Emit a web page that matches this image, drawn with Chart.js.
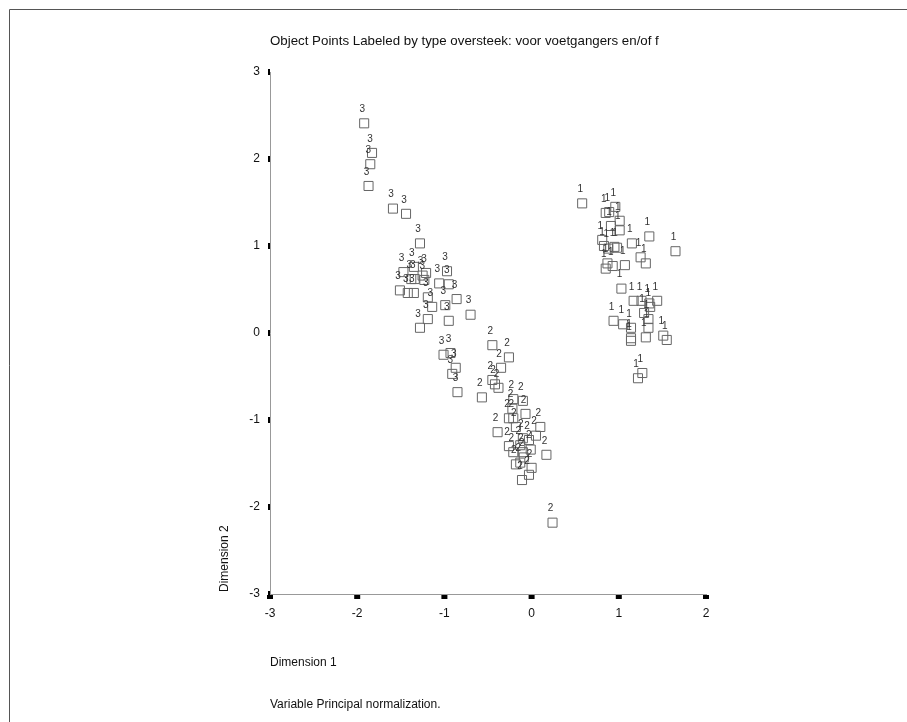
<!DOCTYPE html>
<html>
<head>
<meta charset="utf-8">
<script src="https://cdn.jsdelivr.net/npm/chart.js@4.4.0/dist/chart.umd.min.js"></script>
<style>
body { margin: 0; background: #fff; }
canvas { display: block; }
</style>
</head>
<body>
<canvas id="plot" width="907" height="722"></canvas>
<script>
// object points
const group1X = [0.58, 0.96, 0.85, 0.89, 1.01, 0.91, 1.01, 1.35, 0.81, 1.15, 0.83, 0.88, 0.95, 0.98, 1.65, 1.25, 1.31, 0.87, 0.93, 1.07,
                 0.85, 1.03, 1.17, 1.26, 1.35, 1.44, 1.36, 1.29, 0.94, 1.05, 1.34, 1.14, 1.34, 1.14, 1.14, 1.31, 1.51, 1.55, 1.27, 1.22];
const group1Y = [1.49, 1.45, 1.38, 1.39, 1.29, 1.23, 1.18, 1.11, 1.07, 1.03, 1.00, 0.97, 0.99, 0.98, 0.94, 0.87, 0.80, 0.80, 0.77, 0.78,
                 0.74, 0.51, 0.37, 0.37, 0.34, 0.37, 0.30, 0.23, 0.14, 0.10, 0.16, 0.06, 0.06, -0.06, -0.09, -0.05, -0.03, -0.08, -0.46, -0.52];

const group2X = [-0.45, -0.26, -0.35, -0.45, -0.42, -0.38, -0.57, -0.21, -0.10, -0.22, -0.07, -0.26, -0.21, -0.18, -0.39, 0.10,
                 0.05, -0.10, -0.03, -0.26, -0.13, -0.21, -0.10, -0.01, 0.17, -0.09, -0.18, -0.13, 0.00, -0.03, -0.11, 0.24];
const group2Y = [-0.14, -0.28, -0.40, -0.54, -0.59, -0.63, -0.74, -0.76, -0.78, -0.87, -0.93, -0.98, -0.98, -1.08, -1.14, -1.08,
                 -1.18, -1.21, -1.23, -1.30, -1.29, -1.37, -1.37, -1.34, -1.40, -1.43, -1.51, -1.49, -1.55, -1.63, -1.69, -2.18];

const group3X = [-1.92, -1.83, -1.85, -1.87, -1.59, -1.44, -1.28, -1.35, -1.47, -1.25, -1.21, -0.97, -1.38, -1.34, -1.51, -1.42, -1.35,
                 -1.23, -1.06, -0.95, -1.19, -1.14, -0.99, -0.86, -0.70, -1.19, -0.95, -1.28, -1.01, -0.93, -0.87, -0.91, -0.85];
const group3Y = [2.41, 2.07, 1.94, 1.69, 1.43, 1.37, 1.03, 0.76, 0.70, 0.66, 0.69, 0.71, 0.62, 0.62, 0.49, 0.46, 0.46,
                 0.61, 0.57, 0.56, 0.41, 0.30, 0.32, 0.39, 0.21, 0.16, 0.14, 0.06, -0.25, -0.23, -0.40, -0.47, -0.68];

const groupLabels = ['1', '2', '3'];
const xTicks = [-3, -2, -1, 0, 1, 2];
const yTicks = [-3, -2, -1, 0, 1, 2, 3];

const titleText = 'Object Points Labeled by type oversteek: voor voetgangers en/of f';
const xTitle = 'Dimension 1';
const yTitle = 'Dimension 2';
const footText = 'Variable Principal normalization.';

function toPoints(xs, ys) {
    return xs.map((x, i) => ({ x: x, y: ys[i] }));
}

function makeSet(xs, ys, label) {
    return {
        label: label,
        data: toPoints(xs, ys),
        pointStyle: 'rect',
        pointRadius: 6.4,
        pointHoverRadius: 6.4,
        borderWidth: 1,
        borderColor: '#666',
        backgroundColor: 'rgba(0,0,0,0)'
    };
}

const FONT = '"Liberation Sans", Arial, sans-serif';

// point labels above each square
const pointLabels = {
    id: 'pointLabels',
    afterDatasetsDraw(chart) {
        const ctx = chart.ctx;
        ctx.save();
        ctx.font = '10px ' + FONT;
        ctx.fillStyle = '#333';
        ctx.textAlign = 'center';
        ctx.textBaseline = 'middle';
        chart.data.datasets.forEach((ds, i) => {
            chart.getDatasetMeta(i).data.forEach(el => {
                ctx.fillText(ds.label, el.x - 2, el.y - 14);
            });
        });
        ctx.restore();
    }
};

// frame, tick marks and texts
const decorations = {
    id: 'decorations',
    afterDraw(chart) {
        const ctx = chart.ctx;
        const area = chart.chartArea;
        const xs = chart.scales.x, ys = chart.scales.y;
        ctx.save();

        ctx.strokeStyle = '#555';
        ctx.lineWidth = 1;
        ctx.beginPath();
        ctx.moveTo(9.5, 722);
        ctx.lineTo(9.5, 9.5);
        ctx.lineTo(907, 9.5);
        ctx.stroke();

        ctx.fillStyle = '#000';
        yTicks.forEach(v => {
            const py = ys.getPixelForValue(v);
            ctx.fillRect(area.left - 2, py - 3, 2, 6);
        });
        xTicks.forEach(v => {
            const px = xs.getPixelForValue(v);
            ctx.fillRect(px - 3, area.bottom + 1, 6, 4);
        });

        ctx.fillStyle = '#111';
        ctx.textBaseline = 'middle';
        ctx.textAlign = 'left';
        ctx.font = '13.3px ' + FONT;
        ctx.fillText(titleText, 270, 41);
        ctx.font = '12px ' + FONT;
        ctx.fillText(xTitle, 270, 663);
        ctx.fillText(footText, 270, 705);

        ctx.translate(225, area.bottom - 2);
        ctx.rotate(-Math.PI / 2);
        ctx.fillText(yTitle, 0, 0);
        ctx.restore();
    }
};

new Chart(document.getElementById('plot').getContext('2d'), {
    type: 'scatter',
    data: {
        datasets: [
            makeSet(group1X, group1Y, groupLabels[0]),
            makeSet(group2X, group2Y, groupLabels[1]),
            makeSet(group3X, group3Y, groupLabels[2])
        ]
    },
    options: {
        responsive: false,
        animation: false,
        layout: { padding: { left: 0, top: 72, right: 201, bottom: 0 } },
        plugins: {
            legend: { display: false },
            tooltip: { enabled: false }
        },
        scales: {
            x: {
                type: 'linear',
                min: -3,
                max: 2,
                afterFit(scale) { scale.height = 128; },
                afterBuildTicks(scale) { scale.ticks = xTicks.map(v => ({ value: v })); },
                grid: { display: false, drawTicks: false },
                border: { display: true, color: '#999', width: 1 },
                ticks: { padding: 12, color: '#111', font: { family: FONT, size: 12 } }
            },
            y: {
                type: 'linear',
                min: -3,
                max: 3,
                afterFit(scale) { scale.width = 270; },
                afterBuildTicks(scale) { scale.ticks = yTicks.map(v => ({ value: v })); },
                grid: { display: false, drawTicks: false },
                border: { display: true, color: '#999', width: 1 },
                ticks: { padding: 10, color: '#111', font: { family: FONT, size: 12 } }
            }
        }
    },
    plugins: [pointLabels, decorations]
});
</script>
</body>
</html>
